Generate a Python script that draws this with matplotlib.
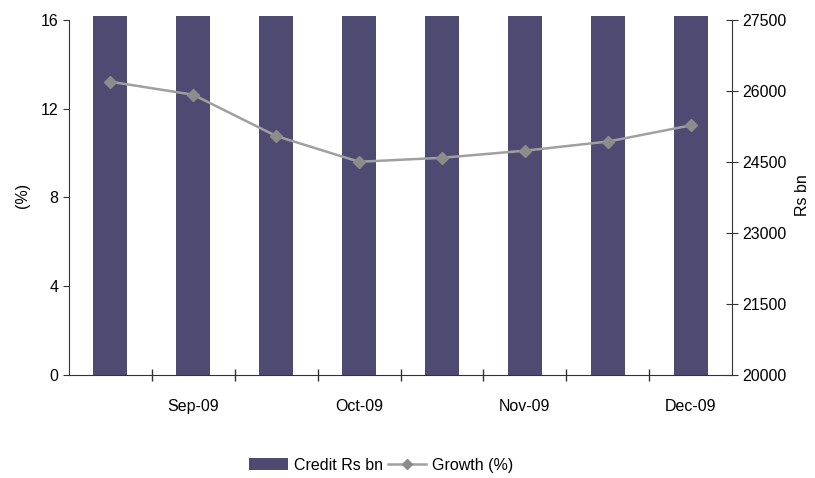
"""Credit and growth chart: bars on the right axis, growth line on the left."""

import matplotlib

matplotlib.use("Agg")
from matplotlib import pyplot as plt
from matplotlib.lines import Line2D
from matplotlib.patches import Patch

periods = ["Aug-09", "Sep-09", "Sep-09", "Oct-09", "Oct-09", "Nov-09", "Nov-09", "Dec-09"]
tick_labels = ["", "Sep-09", "", "Oct-09", "", "Nov-09", "", "Dec-09"]
credit_rs_bn = [27900, 28100, 28000, 28300, 28400, 28600, 28900, 29300]
growth_pct = [13.22, 12.63, 10.77, 9.61, 9.79, 10.11, 10.52, 11.25]

BAR_COLOR = "#4f4a72"
LINE_COLOR = "#a0a0a0"
MARKER_COLOR = "#8c8c8c"

plt.rcParams["font.family"] = ["Liberation Sans", "DejaVu Sans"]
plt.rcParams["font.size"] = 11.5

fig = plt.figure(figsize=(8.15, 4.78), dpi=100)
ax = fig.add_axes([0.0847, 0.2155, 0.8135, 0.751])
ax2 = ax.twinx()

x = list(range(len(periods)))
ax2.bar(x, credit_rs_bn, width=0.41, color=BAR_COLOR, zorder=1)
ax2.set_ylim(20000, 27584)
ax2.set_yticks([20000, 21500, 23000, 24500, 26000, 27500])
ax2.spines["right"].set_bounds(20000, 27500)
ax2.set_ylabel("Rs bn", labelpad=6)

ax.set_zorder(ax2.get_zorder() + 1)
ax.patch.set_visible(False)
ax.plot(x, growth_pct, color=LINE_COLOR, linewidth=1.8, marker="D", markersize=6,
        markerfacecolor=MARKER_COLOR, markeredgecolor=MARKER_COLOR, zorder=3)
ax.set_ylim(0, 16.18)
ax.set_yticks([0, 4, 8, 12, 16])
ax.spines["left"].set_bounds(0, 16)
ax.set_ylabel("(%)", labelpad=8)
ax.set_xlim(-0.5, len(periods) - 0.5)

ax.set_xticks(x)
ax.set_xticklabels(tick_labels)
ax.set_xticks([i + 0.5 for i in x[:-1]], minor=True)
ax.tick_params(axis="x", which="major", length=0, pad=17)
ax.tick_params(axis="x", which="minor", direction="inout", length=8, width=1, color="#333333")
ax.tick_params(axis="y", direction="out", length=4, color="#333333")
ax2.tick_params(axis="y", direction="inout", length=8, color="#333333")

for axis in (ax, ax2):
    axis.spines["top"].set_visible(False)
    axis.spines["left"].set_color("#333333")
    axis.spines["right"].set_color("#333333")
    axis.spines["bottom"].set_color("#333333")
ax.spines["right"].set_visible(False)
ax2.spines["left"].set_visible(False)
ax2.spines["bottom"].set_visible(False)

handles = [
    Patch(facecolor=BAR_COLOR, label="Credit Rs bn"),
    Line2D([0], [0], color=LINE_COLOR, linewidth=1.8, marker="D", markersize=5,
           markerfacecolor=MARKER_COLOR, markeredgecolor=MARKER_COLOR, label="Growth (%)"),
]
fig.legend(handles=handles, loc="center", bbox_to_anchor=(0.468, 0.027), ncol=2,
           frameon=False, handlelength=2.4, handletextpad=0.4, columnspacing=0.3)

fig.savefig("out.png", dpi=100)
